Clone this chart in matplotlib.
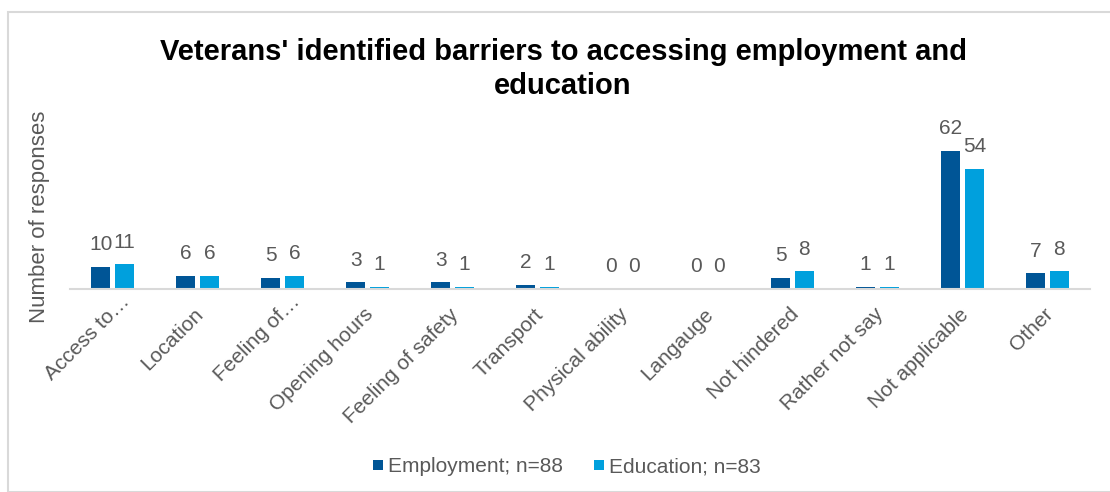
import matplotlib
matplotlib.use('Agg')

import matplotlib.pyplot as plt
import matplotlib.patches as patches
from matplotlib.transforms import ScaledTranslation
import numpy as np

# Survey counts per barrier
categories = ['Access to…', 'Location', 'Feeling of…', 'Opening hours',
              'Feeling of safety', 'Transport', 'Physical ability', 'Langauge',
              'Not hindered', 'Rather not say', 'Not applicable', 'Other']
employment = [10, 6, 5, 3, 3, 2, 0, 0, 5, 1, 62, 7]
education = [11, 6, 6, 1, 1, 1, 0, 0, 8, 1, 54, 8]
series_labels = ['Employment; n=88', 'Education; n=83']

DARK_BLUE = '#005596'
LIGHT_BLUE = '#00A0DD'
TEXT_GREY = '#595959'
AXIS_GREY = '#D9D9D9'
DPI = 100

plt.rcParams['font.family'] = ['Liberation Sans', 'DejaVu Sans']

fig = plt.figure(figsize=(11.1, 4.92), dpi=DPI)
ax = fig.add_axes([70 / 1110, 203 / 492, 1020 / 1110, 156 / 492])

x = np.arange(len(categories))
width = 0.22
offset = 0.14

bars_emp = ax.bar(x - offset, employment, width, color=DARK_BLUE,
                  label=series_labels[0])
bars_edu = ax.bar(x + offset, education, width, color=LIGHT_BLUE,
                  label=series_labels[1])

# Value labels above each bar
for bars, values in ((bars_emp, employment), (bars_edu, education)):
    for bar, v in zip(bars, values):
        ax.annotate(str(v), (bar.get_x() + bar.get_width() / 2, v),
                    xytext=(0, 12), textcoords='offset points',
                    ha='center', va='baseline', fontsize=15,
                    color=TEXT_GREY, annotation_clip=False)

ax.set_xlim(-0.5, len(categories) - 0.5)
ax.set_ylim(0, 70)
ax.set_xticks(x)
ax.set_xticklabels(categories, rotation=45, ha='right', va='baseline',
                   rotation_mode='anchor', fontsize=15, color=TEXT_GREY)
ax.tick_params(axis='x', length=0, pad=19)
ax.set_yticks([])

# Nudge the rotated labels; truncated ones sit a little higher
for lbl in ax.get_xticklabels():
    dx, dy = 7, 0
    if lbl.get_text().endswith('…'):
        dx, dy = 18, 13
    lbl.set_transform(lbl.get_transform() +
                      ScaledTranslation(dx / DPI, dy / DPI,
                                        fig.dpi_scale_trans))

for side in ('top', 'right', 'left'):
    ax.spines[side].set_visible(False)
ax.spines['bottom'].set_color(AXIS_GREY)
ax.spines['bottom'].set_linewidth(1.5)

fig.text(40 / 1110, 1 - 217 / 492, 'Number of responses', rotation=90,
         ha='center', va='center', fontsize=16, color=TEXT_GREY)

fig.text(563 / 1110, 1 - 69 / 492,
         "Veterans' identified barriers to accessing employment and\neducation",
         ha='center', va='center', fontsize=21, fontweight='bold',
         color='black', linespacing=1.25)

fig.legend(loc='center', bbox_to_anchor=(567 / 1110, 1 - 467 / 492), ncol=2,
           frameon=False, fontsize=15, labelcolor=TEXT_GREY,
           handlelength=0.48, handleheight=0.36, handletextpad=0.22,
           columnspacing=1.5)

# Chart frame
fig.patches.append(patches.Rectangle((8 / 1110, 0), 1.0, 1 - 12 / 492,
                                     transform=fig.transFigure, fill=False,
                                     edgecolor=AXIS_GREY, linewidth=1.5))

fig.savefig('out.png', dpi=DPI)
